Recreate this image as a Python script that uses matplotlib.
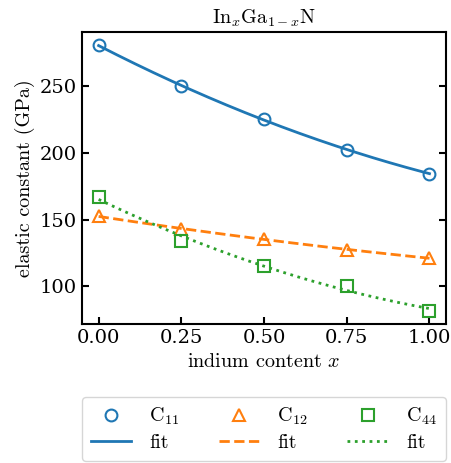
"""Elastic constants of InxGa1-xN vs. indium content, with quadratic fits."""

import numpy as np
import matplotlib
matplotlib.use("Agg")
import matplotlib.pyplot as plt

# indium content and elastic constants (GPa)
x_in = [0.0, 0.25, 0.5, 0.75, 1.0]
c11 = [281.0, 250.0, 225.5, 202.5, 184.5]
c12 = [152.5, 143.0, 135.5, 127.5, 121.0]
c44 = [167.0, 134.0, 115.5, 100.0, 81.5]

series = [
    (c11, r"C$_{11}$", "o", "-", "C0"),
    (c12, r"C$_{12}$", "^", "--", "C1"),
    (c44, r"C$_{44}$", "s", ":", "C2"),
]

plt.rcParams.update({
    "font.family": "DejaVu Serif",
    "font.size": 14,
    "mathtext.fontset": "cm",
    "axes.linewidth": 1.5,
    "xtick.direction": "in",
    "ytick.direction": "in",
    "ytick.right": True,
    "xtick.major.size": 5,
    "ytick.major.size": 5,
    "xtick.major.width": 1.5,
    "ytick.major.width": 1.5,
})
cm = "cmr10"

fig = plt.figure(figsize=(4.51, 4.63), dpi=100)
ax = fig.add_axes([0.182, 0.300, 0.807, 0.631])

xs = np.linspace(0, 1, 200)
handles = []
for vals, label, marker, ls, color in series:
    coef = np.polyfit(x_in, vals, 2)
    pts, = ax.plot(x_in, vals, marker, ms=8.5, mfc="none", mec=color,
                   mew=1.5, label=label)
    fit, = ax.plot(xs, np.polyval(coef, xs), ls, color=color, lw=2,
                   label="fit")
    handles += [pts, fit]

ax.set_xticks([0, 0.25, 0.5, 0.75, 1.0])
ax.set_yticks([100, 150, 200, 250])
ax.set_xlabel(r"indium content $x$", family=cm, fontsize=14.5)
ax.set_ylabel("elastic constant (GPa)", family=cm, fontsize=14.5)
ax.set_title(r"In$_x$Ga$_{1-x}$N", family=cm, fontsize=14.5)

fig.legend(handles=handles, ncol=3, loc="upper center",
           bbox_to_anchor=(0.585, 0.143), borderaxespad=0,
           prop={"family": cm, "size": 14.5},
           columnspacing=1.95, handletextpad=0.9, labelspacing=0.35,
           borderpad=0.45)

fig.savefig("out.png", dpi=100)
